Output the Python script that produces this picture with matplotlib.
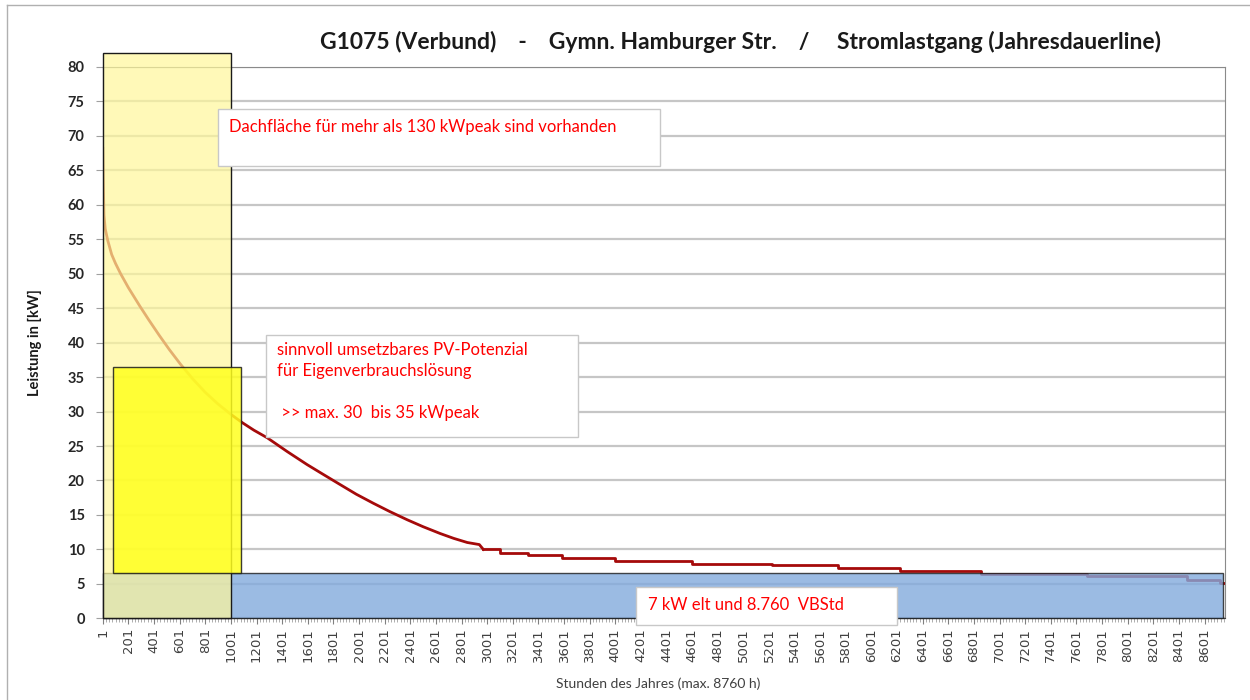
import matplotlib.pyplot as plt
from matplotlib.patches import Rectangle

plt.rcParams['font.family'] = ['Lato', 'DejaVu Sans']

curve_h = [1, 5, 10, 20, 40, 70, 100, 140, 200, 290, 360, 440, 520, 606, 700, 800, 900,
           1000, 1089, 1180, 1284, 1440, 1596, 1720, 1854, 1980, 2112, 2240, 2377, 2500,
           2635, 2740, 2846, 2940, 2971]
curve_kw = [68.2, 63.0, 58.5, 56.5, 54.8, 52.8, 51.5, 50.0, 48.0, 45.3, 43.3, 41.1, 39.0,
            36.9, 34.8, 32.8, 31.1, 29.6, 28.4, 27.3, 26.2, 24.2, 22.3, 20.9, 19.4, 18.0,
            16.7, 15.5, 14.3, 13.3, 12.3, 11.6, 11.0, 10.7, 10.0]

# flacher Teil als Treppe
step_h = [2971, 3104, 3322, 3588, 4002, 4603, 5227, 5742, 6226, 6858, 7685, 8465, 8723, 8760]
step_kw = [10.0, 9.5, 9.15, 8.75, 8.3, 7.9, 7.7, 7.3, 6.85, 6.45, 6.1, 5.5, 5.1, 5.1]

hours_total = 8760
x_ticks = list(range(1, 8602, 200))
y_ticks = list(range(0, 81, 5))

title = 'G1075 (Verbund)    -    Gymn. Hamburger Str.    /     Stromlastgang (Jahresdauerline)'
note_roof = 'Dachfläche für mehr als 130 kWpeak sind vorhanden'
note_pv = 'sinnvoll umsetzbares PV-Potenzial\nfür Eigenverbrauchslösung\n\n >> max. 30  bis 35 kWpeak'
note_base = '7 kW elt und 8.760  VBStd'

fig = plt.figure(figsize=(12.5, 7), dpi=100)
ax = fig.add_axes([0.0822, 0.1167, 0.98 - 0.0822, 0.9043 - 0.1167])

# Rahmen um das Diagramm
fig.add_artist(plt.Line2D([7 / 1250, 7 / 1250], [0, 1 - 5 / 700], color='#b0b0b0', lw=1))
fig.add_artist(plt.Line2D([7 / 1250, 1], [1 - 5 / 700, 1 - 5 / 700], color='#b0b0b0', lw=1))

ax.plot(curve_h, curve_kw, color='#A50A0A', lw=2.0, zorder=2)
ax.plot(step_h, step_kw, color='#A50A0A', lw=2.0, zorder=2, drawstyle='steps-post')

# Flaechen
ax.add_patch(Rectangle((0.5, 0), 8744, 6.55, facecolor='#82AADD', alpha=0.8,
                       edgecolor='#1a1a1a', lw=1, zorder=3, clip_on=False))
ax.add_patch(Rectangle((0.5, 0), 1000.5, 82.1, facecolor='#FFF79B', alpha=0.7,
                       edgecolor='none', zorder=4, clip_on=False))
ax.add_patch(Rectangle((0.5, 0), 1000.5, 82.1, facecolor='none',
                       edgecolor='#1a1a1a', lw=1, zorder=4, clip_on=False))
ax.add_patch(Rectangle((81, 6.55), 1000, 29.95, facecolor='#FFFF1E', alpha=0.85,
                       edgecolor='#1a1a1a', lw=1, zorder=5, clip_on=False))

# Textboxen
box_kw = dict(facecolor='white', edgecolor='#c8c8c8', lw=1, zorder=6, clip_on=False)
ax.add_patch(Rectangle((901, 65.7), 3447, 8.2, **box_kw))
ax.add_patch(Rectangle((1276, 26.3), 2436, 14.8, **box_kw))
ax.add_patch(Rectangle((4164, -1.0), 2037, 5.5, **box_kw))

ax.text(988, 71.3, note_roof, color='#FF0000', fontsize=12, va='center', zorder=7)
ax.text(1362, 40.1, note_pv, color='#FF0000', fontsize=12, va='top', zorder=7,
        linespacing=1.38)
ax.text(4257, 2.0, note_base, color='#FF0000', fontsize=12, va='center', zorder=7,
        clip_on=False)

ax.set_xlim(0.5, hours_total + 0.5)
ax.set_ylim(0, 80)
ax.set_yticks(y_ticks)
ax.set_yticklabels([str(v) for v in y_ticks], fontweight='bold', fontsize=10.5, color='#262626')
ax.set_xticks(x_ticks)
ax.set_xticklabels([str(v) for v in x_ticks], rotation=90, fontsize=9.5, color='#404040',
                   family=['DejaVu Sans'])
ax.set_xticks(list(range(1, hours_total, 25)), minor=True)
ax.tick_params(axis='x', which='major', length=4, color='#808080', pad=3)
ax.tick_params(axis='x', which='minor', length=3, color='#a0a0a0')
ax.tick_params(axis='y', length=5, color='#a0a0a0', pad=8)

ax.grid(axis='y', color='#c6c6c6', lw=1.6)
ax.set_axisbelow(True)
for side in ['left', 'right', 'top']:
    ax.spines[side].set_color('#8a8a8a')
ax.spines['bottom'].set_color('#404040')

ax.set_ylabel('Leistung in [kW]', fontsize=10.5, fontweight='bold', color='#1a1a1a')
ax.yaxis.set_label_coords(-0.054, 0.5)
ax.set_xlabel('Stunden des Jahres (max. 8760 h)', fontsize=10, color='#404040')
ax.xaxis.set_label_coords(0.495, -0.108)

fig.text(740 / 1250, 1 - 42 / 700, title, ha='center', va='center', fontsize=16.5,
         fontweight='bold', color='#1a1a1a')

fig.savefig('out.png', dpi=100)
